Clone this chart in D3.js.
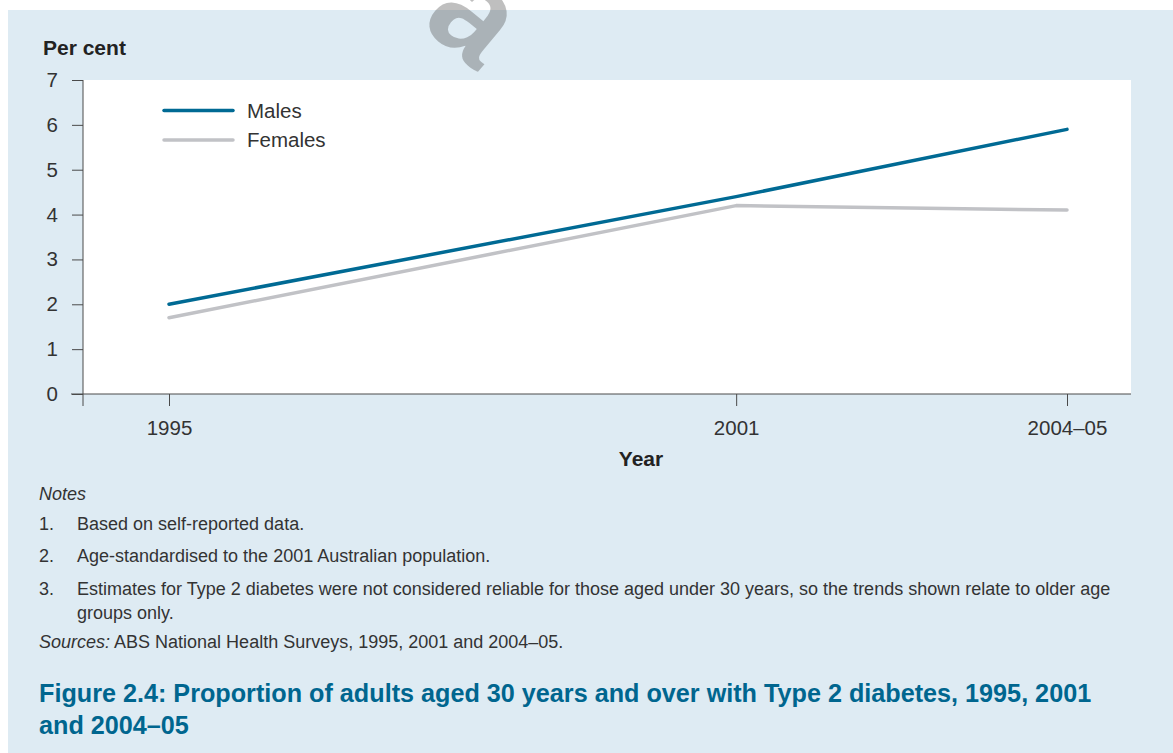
<!DOCTYPE html>
<html>
<head>
<meta charset="utf-8">
<script src="https://cdn.jsdelivr.net/npm/d3@7"></script>
<style>
  body { margin: 0; background: #fff; }
  svg { display: block; font-family: "Liberation Sans", Arial, sans-serif; }
</style>
</head>
<body>
<svg id="chart" width="1173" height="753"></svg>
<script>
// Data
const years = [1995, 2001, 2004.5];
const yearLabels = ["1995", "2001", "2004–05"];
const males = [2.0, 4.4, 5.9];
const females = [1.7, 4.2, 4.1];
const yTicks = [0, 1, 2, 3, 4, 5, 6, 7];

const notes = [
  "Based on self-reported data.",
  "Age-standardised to the 2001 Australian population.",
  "Estimates for Type 2 diabetes were not considered reliable for those aged under 30 years, so the trends shown relate to older age"
];

const svg = d3.select("#chart");

// Fondo azul del panel
svg.append("rect")
  .attr("x", 8).attr("y", 10)
  .attr("width", 1165).attr("height", 743)
  .attr("fill", "#deebf3");

// Área del gráfico
const margin = { top: 80, left: 83, right: 42, bottom: 359 };
const width = 1173 - margin.left - margin.right;
const height = 753 - margin.top - margin.bottom;

const g = svg.append("g")
  .attr("transform", `translate(${margin.left},${margin.top})`);

g.append("rect")
  .attr("width", width).attr("height", height)
  .attr("fill", "#fff");

const x = d3.scaleLinear()
  .domain([1995, 2004.5])
  .range([86, 984]);

const y = d3.scaleLinear()
  .domain([0, 7])
  .range([height, 0]);

const axisColor = "#4a4a4a";
const textColor = "#333";
const tickFont = "20.5px";

// Eje Y
const yAxis = g.append("g")
  .call(d3.axisLeft(y).tickValues(yTicks).tickFormat(d3.format("d"))
    .tickSize(11).tickPadding(14).tickSizeOuter(0));
yAxis.select(".domain").remove();
yAxis.selectAll(".tick line").attr("stroke", axisColor);
yAxis.selectAll("text")
  .attr("fill", textColor)
  .style("font-size", tickFont)
  .style("font-family", "'Liberation Sans', Arial, sans-serif");

g.append("line")
  .attr("x1", 0).attr("x2", 0)
  .attr("y1", 0).attr("y2", height + 12)
  .attr("stroke", axisColor);

// Eje X
const xAxis = g.append("g")
  .attr("transform", `translate(0,${height})`)
  .call(d3.axisBottom(x).tickValues(years)
    .tickFormat((d, i) => yearLabels[i])
    .tickSize(12).tickPadding(14).tickSizeOuter(0));
xAxis.select(".domain").remove();
xAxis.selectAll(".tick line").attr("stroke", axisColor);
xAxis.selectAll("text")
  .attr("fill", textColor)
  .style("font-size", tickFont)
  .style("font-family", "'Liberation Sans', Arial, sans-serif");

g.append("line")
  .attr("x1", -12).attr("x2", width)
  .attr("y1", height).attr("y2", height)
  .attr("stroke", axisColor);

// Líneas
const line = d3.line()
  .x((d, i) => x(years[i]))
  .y(d => y(d));

const series = [
  { name: "Females", values: females, color: "#c1c2c6" },
  { name: "Males", values: males, color: "#006a94" }
];

series.forEach(s => {
  g.append("path")
    .datum(s.values)
    .attr("d", line)
    .attr("fill", "none")
    .attr("stroke", s.color)
    .attr("stroke-width", 3.5)
    .attr("stroke-linecap", "round")
    .attr("stroke-linejoin", "round");
});

// Leyenda
const legend = g.append("g").attr("transform", "translate(81,30.5)");
[series[1], series[0]].forEach((s, i) => {
  const row = legend.append("g").attr("transform", `translate(0,${i * 29.5})`);
  row.append("line")
    .attr("x1", 0).attr("x2", 69)
    .attr("stroke", s.color)
    .attr("stroke-width", 3.5)
    .attr("stroke-linecap", "round");
  row.append("text")
    .attr("x", 83).attr("y", 7)
    .attr("fill", textColor)
    .style("font-size", tickFont)
    .text(s.name);
});

// Títulos de ejes
svg.append("text")
  .attr("x", 43).attr("y", 55)
  .attr("fill", "#222")
  .style("font-size", "21px")
  .style("font-weight", "bold")
  .text("Per cent");

svg.append("text")
  .attr("x", 641).attr("y", 466)
  .attr("text-anchor", "middle")
  .attr("fill", "#222")
  .style("font-size", "21px")
  .style("font-weight", "bold")
  .text("Year");

// Notas
const noteSize = "18px";
svg.append("text")
  .attr("x", 39).attr("y", 500)
  .attr("fill", textColor)
  .style("font-size", noteSize)
  .style("font-style", "italic")
  .text("Notes");

const noteY = [530, 562, 595];
notes.forEach((n, i) => {
  svg.append("text")
    .attr("x", 39).attr("y", noteY[i])
    .attr("fill", textColor)
    .style("font-size", noteSize)
    .text((i + 1) + ".");
  svg.append("text")
    .attr("x", 77).attr("y", noteY[i])
    .attr("fill", textColor)
    .style("font-size", noteSize)
    .text(n);
});
svg.append("text")
  .attr("x", 77).attr("y", 619)
  .attr("fill", textColor)
  .style("font-size", noteSize)
  .text("groups only.");

const src = svg.append("text")
  .attr("x", 39).attr("y", 648)
  .attr("fill", textColor)
  .style("font-size", noteSize);
src.append("tspan").style("font-style", "italic").text("Sources:");
src.append("tspan").text(" ABS National Health Surveys, 1995, 2001 and 2004–05.");

// Título de la figura
const titleLines = [
  "Figure 2.4: Proportion of adults aged 30 years and over with Type 2 diabetes, 1995, 2001",
  "and 2004–05"
];
titleLines.forEach((t, i) => {
  svg.append("text")
    .attr("x", 39).attr("y", 702 + i * 32)
    .attr("fill", "#00668f")
    .style("font-size", "25.2px")
    .style("font-weight", "bold")
    .text(t);
});

// Marca de agua
svg.append("text")
  .attr("transform", "translate(448,48) rotate(40)")
  .attr("text-anchor", "middle")
  .attr("fill", "#4d4d4d")
  .attr("fill-opacity", 0.36)
  .style("font-size", "135px")
  .style("font-weight", "bold")
  .text("a");
</script>
</body>
</html>
